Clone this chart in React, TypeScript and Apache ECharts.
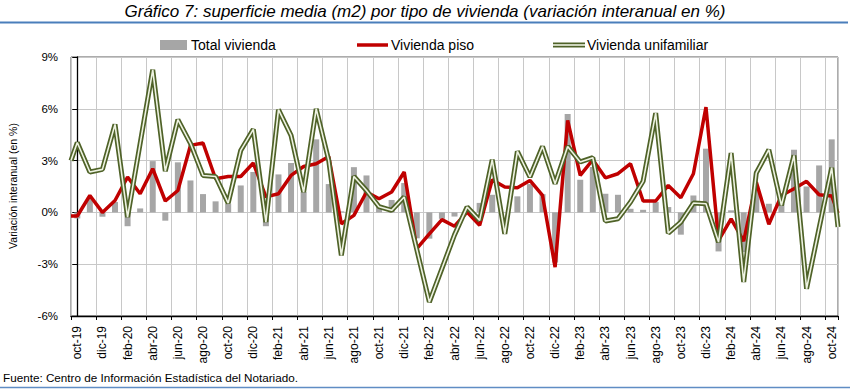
import { useEffect, useRef } from "react";
import * as echarts from "echarts";

const categories = [
  "oct-19", "nov-19", "dic-19", "ene-20", "feb-20", "mar-20", "abr-20", "may-20", "jun-20", "jul-20",
  "ago-20", "sep-20", "oct-20", "nov-20", "dic-20", "ene-21", "feb-21", "mar-21", "abr-21", "may-21",
  "jun-21", "jul-21", "ago-21", "sep-21", "oct-21", "nov-21", "dic-21", "ene-22", "feb-22", "mar-22",
  "abr-22", "may-22", "jun-22", "jul-22", "ago-22", "sep-22", "oct-22", "nov-22", "dic-22", "ene-23",
  "feb-23", "mar-23", "abr-23", "may-23", "jun-23", "jul-23", "ago-23", "sep-23", "oct-23", "nov-23",
  "dic-23", "ene-24", "feb-24", "mar-24", "abr-24", "may-24", "jun-24", "jul-24", "ago-24", "sep-24",
  "oct-24",
];

const totalVivienda = [
  -0.35, 0.9, -0.25, 0.6, -0.8, 0.23, 2.97, -0.48, 2.9, 1.85,
  1.06, 0.64, 0.5, 1.56, 2.34, -0.8, 2.2, 2.86, 1.18, 4.23,
  1.64, 0.06, 2.62, 2.14, 0.4, 0.72, 1.7, -1.5, -1.52, -0.37,
  -0.24, 0.05, 0.55, 1.02, 0, 0.93, 1.64, 1.06, -2.9, 5.7,
  1.89, 2.63, 1.08, 1.02, 0.21, 0.15, 0.6, 0.31, -1.29, 0.98,
  3.69, -2.26, 0.12, -2.3, 1.5, 0.5, 0.5, 3.63, 1.5, 2.72,
  4.23,
];

const viviendaPiso = [
  -0.21, 0.98, 0.0, 0.69, 2.05, 1.08, 2.53, 0.66, 1.27, 3.88,
  4.02, 1.95, 2.08, 2.08, 2.86, 0.9, 1.08, 2.14, 2.66, 2.82,
  3.24, -0.66, -0.17, 1.18, 0.79, 1.18, 2.34, -2.1, -1.24, -0.42,
  -0.8, 0.02, -0.75, 1.89, 1.47, 1.43, 1.85, 0.98, -3.17, 5.33,
  2.14, 3.05, 2.0, 2.24, 2.82, 0.66, 0.66, 1.56, 0.85, 2.24,
  6.1, -1.62, -0.37, -1.66, 1.76, -0.69, 0.98, 1.37, 1.8, 1.02,
  0.95,
];

const viviendaUnifamiliar = [
  4.05, 2.34, 2.49, 5.1, -0.27, 4.0, 8.26, 2.39, 5.37, 4.0,
  2.14, 2.08, 0.54, 3.59, 4.81, -0.56, 5.95, 4.46, 1.18, 6.0,
  3.0, -2.49, 2.08, 1.27, 0.33, 0.12, 0.89, -2.15, -5.19, -3.25,
  -1.3, 0.31, -0.46, 3.05, -1.24, 3.53, 2.05, 3.82, 1.66, 3.82,
  2.92, 3.17, -0.5, -0.37, 0.6, 1.8, 5.75, -1.2, -0.56, 0.54,
  0.5, -1.72, 3.44, -4.03, 2.28, 3.63, 0.41, 3.3, -4.42, -0.9,
  2.59,
];

// values of the months just outside the shown range (sep-19, nov-24); the lines run towards them up to the plot edges
const pisoOutside = [-0.2, -1.03];
const unifamiliarOutside = [1.95, -4.29];

const yMin = -6;
const yMax = 9;
const yStep = 3;

const FONT = "Liberation Sans, Arial, sans-serif";

// line points: month index -> value, with the segments towards the outside months cut at the plot edges
function lineData(values: number[], outside: number[]) {
  const n = values.length;
  const pts: number[][] = [[-0.5, (outside[0] + values[0]) / 2]];
  values.forEach((v, i) => pts.push([i, v]));
  pts.push([n - 0.5, (values[n - 1] + outside[1]) / 2]);
  return pts;
}

export default function App() {
  const ref = useRef<HTMLDivElement>(null);

  useEffect(() => {
    document.body.style.margin = "0";
    if (!ref.current) return;
    const chart = echarts.init(ref.current, null, { renderer: "svg" });

    const option: any = {
      animation: false,
      backgroundColor: "#ffffff",
      grid: {
        left: 71,
        right: 12,
        top: 57,
        bottom: 73,
        show: true,
        borderColor: "#595959",
        borderWidth: 1,
        containLabel: false,
        outerBoundsMode: "none",
      },
      xAxis: [
        {
          type: "category",
          data: categories,
          position: "bottom",
          boundaryGap: true,
          axisLine: { onZero: false, show: true, lineStyle: { color: "#595959", width: 1 } },
          axisTick: { show: false },
          axisLabel: {
            interval: 1,
            rotate: 90,
            fontSize: 12,
            fontFamily: FONT,
            color: "#000000",
            margin: 10,
          },
          splitLine: { show: true, interval: 1, lineStyle: { color: "#C8C8C8", width: 1 } },
        },
        {
          type: "value",
          min: -0.5,
          max: categories.length - 0.5,
          show: false,
          splitLine: { show: false },
        },
        {
          type: "category",
          data: categories,
          position: "bottom",
          boundaryGap: true,
          axisLine: { onZero: true, show: true, lineStyle: { color: "#000000", width: 1.3 } },
          axisTick: { show: true, interval: 1, length: 4, lineStyle: { color: "#000000" } },
          axisLabel: { show: false },
          splitLine: { show: false },
        },
      ],
      yAxis: {
        type: "value",
        min: yMin,
        max: yMax,
        interval: yStep,
        axisLine: { show: true, lineStyle: { color: "#000000", width: 1.3 } },
        axisTick: { show: true, length: 5, lineStyle: { color: "#000000" } },
        axisLabel: {
          formatter: "{value}%",
          fontSize: 11.5,
          fontFamily: FONT,
          color: "#000000",
          margin: 13,
        },
        splitLine: { show: true, lineStyle: { color: "#C8C8C8", width: 1 } },
      },
      series: [
        {
          name: "Total vivienda",
          type: "bar",
          xAxisIndex: 0,
          data: totalVivienda,
          barWidth: 6,
          itemStyle: { color: "#A6A6A6" },
          z: 2,
        },
        {
          name: "Vivienda piso",
          type: "line",
          xAxisIndex: 1,
          data: lineData(viviendaPiso, pisoOutside),
          showSymbol: false,
          symbol: "none",
          lineStyle: { color: "#C00000", width: 3.5, cap: "butt" },
          clip: true,
          z: 3,
        },
        {
          name: "Vivienda unifamiliar",
          type: "line",
          xAxisIndex: 1,
          data: lineData(viviendaUnifamiliar, unifamiliarOutside),
          showSymbol: false,
          symbol: "none",
          lineStyle: { color: "#4F6228", width: 5, cap: "butt" },
          clip: true,
          z: 4,
        },
        {
          name: "Vivienda unifamiliar (centro)",
          type: "line",
          xAxisIndex: 1,
          data: lineData(viviendaUnifamiliar, unifamiliarOutside),
          showSymbol: false,
          symbol: "none",
          lineStyle: { color: "#EEF3E2", width: 1.6, cap: "butt" },
          clip: true,
          z: 5,
        },
      ],
      graphic: [
        {
          type: "text",
          left: "center",
          top: 3,
          style: {
            text: "Gráfico 7: superficie media (m2) por tipo de vivienda (variación interanual en %)",
            fontSize: 17,
            fontStyle: "italic",
            fontFamily: FONT,
            fill: "#000000",
          },
        },
        {
          type: "line",
          shape: { x1: 0, y1: 22.5, x2: 848, y2: 22.5 },
          style: { stroke: "#4A7EBB", lineWidth: 2 },
        },
        {
          type: "rect",
          shape: { x: 160, y: 40, width: 27, height: 10 },
          style: { fill: "#A6A6A6" },
        },
        {
          type: "text",
          x: 191,
          y: 45,
          style: {
            text: "Total vivienda",
            fontSize: 14,
            fontFamily: FONT,
            fill: "#000000",
            textAlign: "left",
            textVerticalAlign: "middle",
          },
        },
        {
          type: "line",
          shape: { x1: 357, y1: 45, x2: 388, y2: 45 },
          style: { stroke: "#C00000", lineWidth: 3.5 },
        },
        {
          type: "text",
          x: 391,
          y: 45,
          style: {
            text: "Vivienda piso",
            fontSize: 14,
            fontFamily: FONT,
            fill: "#000000",
            textAlign: "left",
            textVerticalAlign: "middle",
          },
        },
        {
          type: "line",
          shape: { x1: 553, y1: 45, x2: 585, y2: 45 },
          style: { stroke: "#4F6228", lineWidth: 5 },
        },
        {
          type: "line",
          shape: { x1: 553, y1: 45, x2: 585, y2: 45 },
          style: { stroke: "#EEF3E2", lineWidth: 1.6 },
        },
        {
          type: "text",
          x: 587,
          y: 45,
          style: {
            text: "Vivienda unifamiliar",
            fontSize: 14,
            fontFamily: FONT,
            fill: "#000000",
            textAlign: "left",
            textVerticalAlign: "middle",
          },
        },
        {
          type: "text",
          x: 13,
          y: 186,
          rotation: Math.PI / 2,
          style: {
            text: "Variación interanual (en %)",
            fontSize: 10.5,
            fontFamily: FONT,
            fill: "#000000",
            textAlign: "center",
            textVerticalAlign: "middle",
          },
        },
        {
          type: "text",
          x: 3,
          y: 377,
          style: {
            text: "Fuente: Centro de Información Estadística del Notariado.",
            fontSize: 11.7,
            fontFamily: FONT,
            fill: "#000000",
            textAlign: "left",
            textVerticalAlign: "middle",
          },
        },
        {
          type: "line",
          shape: { x1: 0, y1: 387.5, x2: 850, y2: 387.5 },
          style: { stroke: "#5F8DC4", lineWidth: 1.5 },
        },
      ],
    };

    chart.setOption(option);
    return () => chart.dispose();
  }, []);

  return <div ref={ref} style={{ width: 850, height: 389 }} />;
}
